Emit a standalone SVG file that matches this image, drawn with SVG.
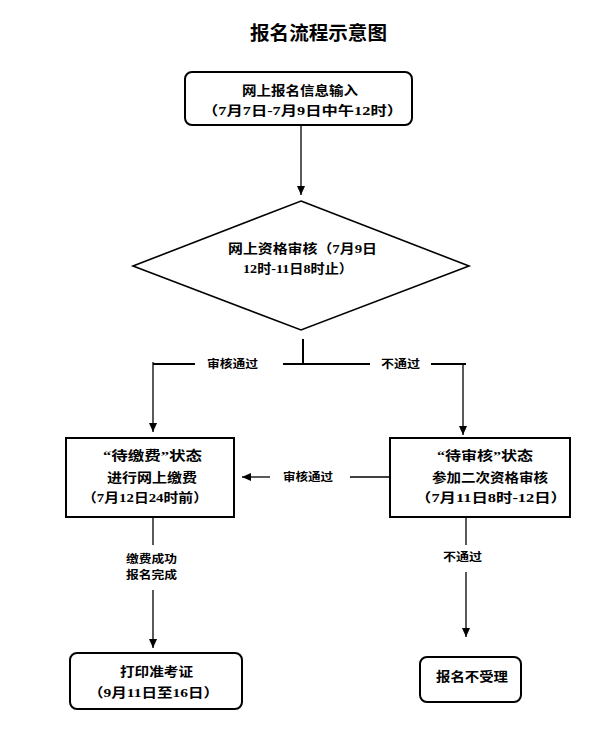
<svg xmlns="http://www.w3.org/2000/svg" width="596" height="731" viewBox="0 0 596 731">
<defs>
<marker id="ah" markerUnits="userSpaceOnUse" markerWidth="10" markerHeight="8" refX="9" refY="4" orient="auto">
<path d="M0,0 L9,4 L0,8 Z" fill="#000"/>
</marker>
<style>
text{font-family:"Liberation Serif","Noto Sans CJK SC",serif;fill:#000;text-anchor:middle;}
.t{font-size:13px;font-weight:bold;}
.l{font-size:11px;font-weight:bold;}
.title{font-size:19px;font-weight:bold;}
.box{fill:#fff;stroke:#000;stroke-width:2;}
.ln{fill:none;stroke:#000;stroke-width:1.3;}
.lh{fill:none;stroke:#000;stroke-width:2;}
.ar{fill:none;stroke:#000;stroke-width:1.3;marker-end:url(#ah);}
</style>
</defs>
<rect width="596" height="731" fill="#fff"/>
<text class="title" x="318.5" y="40" textLength="137" lengthAdjust="spacingAndGlyphs">报名流程示意图</text>

<g id="connectors">
<line class="ar" x1="301" y1="125" x2="301" y2="195"/>
<line class="lh" x1="303" y1="339" x2="303" y2="365"/>
<polyline class="lh" points="195,364 153,364"/>
<line class="lh" x1="283" y1="364" x2="370" y2="364"/>
<line class="lh" x1="431" y1="364" x2="466" y2="364"/>
<line class="ar" x1="153" y1="362" x2="153" y2="432"/>
<line class="ar" x1="463" y1="364" x2="463" y2="435"/>
<line class="ln" x1="350" y1="477" x2="390" y2="477"/>
<line class="ar" x1="270" y1="477" x2="242" y2="477"/>
<line class="ln" x1="153" y1="517" x2="153" y2="545"/>
<line class="ar" x1="153" y1="590" x2="153" y2="648"/>
<line class="ln" x1="466" y1="517" x2="466" y2="545"/>
<line class="ar" x1="466" y1="572" x2="466" y2="637"/>
<text class="l" x="232.5" y="368" textLength="51" lengthAdjust="spacingAndGlyphs">审核通过</text>
<text class="l" x="400.5" y="368" textLength="39" lengthAdjust="spacingAndGlyphs">不通过</text>
<text class="l" x="308" y="481" textLength="50" lengthAdjust="spacingAndGlyphs">审核通过</text>
<text class="l" x="151.5" y="563" textLength="51" lengthAdjust="spacingAndGlyphs">缴费成功</text>
<text class="l" x="151.5" y="579" textLength="51" lengthAdjust="spacingAndGlyphs">报名完成</text>
<text class="l" x="462.5" y="561" textLength="39" lengthAdjust="spacingAndGlyphs">不通过</text>
</g>

<g id="n1">
<rect class="box" x="185" y="72" width="227" height="53" rx="7"/>
<text class="t" x="300" y="95" textLength="116" lengthAdjust="spacingAndGlyphs">网上报名信息输入</text>
<text class="t" x="302.5" y="115" textLength="201" lengthAdjust="spacingAndGlyphs">（7月7日-7月9日中午12时）</text>
</g>

<g id="n2">
<polygon points="301,201 469,266 301,330 133,266" fill="#fff" stroke="#000" stroke-width="1.6"/>
<text class="t" x="302.5" y="253" textLength="149" lengthAdjust="spacingAndGlyphs">网上资格审核（7月9日</text>
<text class="t" x="298" y="273" textLength="110" lengthAdjust="spacingAndGlyphs">12时-11日8时止）</text>
</g>

<g id="n3">
<rect class="box" x="66" y="438" width="168" height="79"/>
<text class="t" x="152.5" y="460" textLength="99" lengthAdjust="spacingAndGlyphs">“待缴费”状态</text>
<text class="t" x="152" y="482" textLength="90" lengthAdjust="spacingAndGlyphs">进行网上缴费</text>
<text class="t" x="145" y="502" textLength="126" lengthAdjust="spacingAndGlyphs">（7月12日24时前）</text>
</g>

<g id="n4">
<rect class="box" x="390" y="438" width="180" height="79"/>
<text class="t" x="485" y="460" textLength="96" lengthAdjust="spacingAndGlyphs">“待审核”状态</text>
<text class="t" x="490" y="482" textLength="116" lengthAdjust="spacingAndGlyphs">参加二次资格审核</text>
<text class="t" x="491" y="502" textLength="152" lengthAdjust="spacingAndGlyphs">（7月11日8时-12日）</text>
</g>

<g id="n5">
<rect class="box" x="70" y="653" width="172" height="56" rx="7"/>
<text class="t" x="156.5" y="676" textLength="73" lengthAdjust="spacingAndGlyphs">打印准考证</text>
<text class="t" x="153.5" y="697" textLength="131" lengthAdjust="spacingAndGlyphs">（9月11日至16日）</text>
</g>

<g id="n6">
<rect class="box" x="420" y="657" width="101" height="45" rx="7"/>
<text class="t" x="472" y="681" textLength="72" lengthAdjust="spacingAndGlyphs">报名不受理</text>
</g>
</svg>
